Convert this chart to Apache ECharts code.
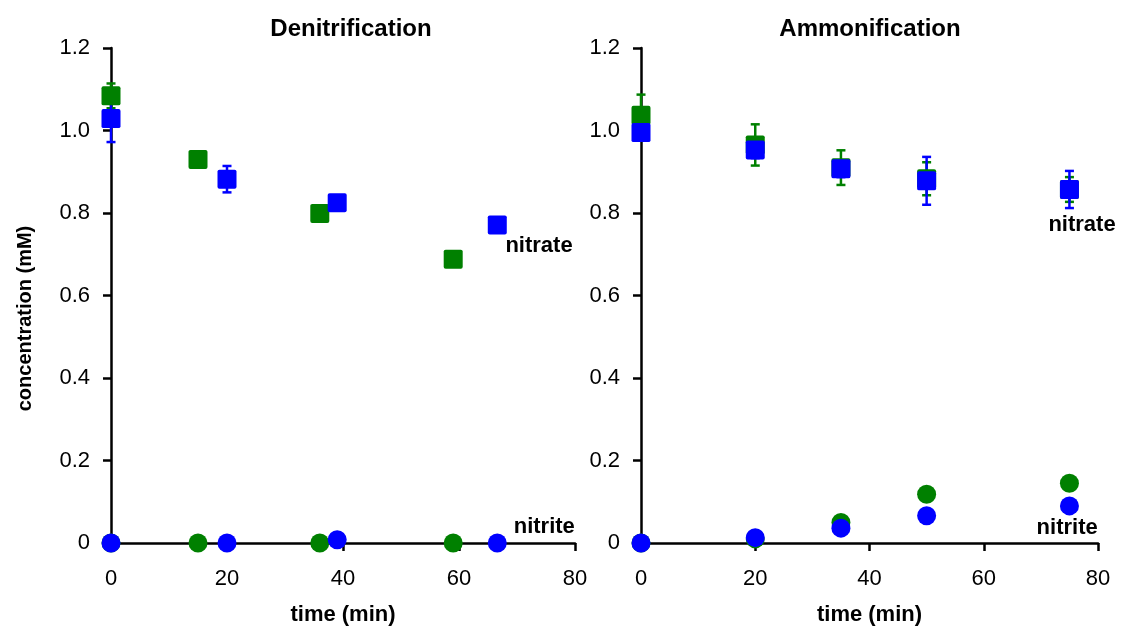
<!DOCTYPE html>
<html>
<head>
<meta charset="utf-8">
<script src="https://cdn.jsdelivr.net/npm/echarts@6/dist/echarts.min.js"></script>
<style>
  html, body { margin: 0; padding: 0; background: #fff; }
  #chart { width: 1129px; height: 626px; }
</style>
</head>
<body>
<div id="chart"></div>
<script>
// Panel titles and axis text
const panelTitles = ['Denitrification', 'Ammonification'];
const xTickValues = [0, 20, 40, 60, 80];
const yTickLabels = ['0', '0.2', '0.4', '0.6', '0.8', '1.0', '1.2'];

// Denitrification: two replicate runs (green, blue), time in min, concentration in mM
const denitTimeA = [0, 15, 36, 59];
const denitNitrateA = [1.084, 0.930, 0.799, 0.688];
const denitNitrateErrA = [0.03, 0.01, 0.01, 0.01];
const denitNitriteA = [0, 0, 0, 0];

const denitTimeB = [0, 20, 39, 66.6];
const denitNitrateB = [1.029, 0.882, 0.825, 0.771];
const denitNitrateErrB = [0.057, 0.032, 0.0, 0.012];
const denitNitriteB = [0, 0, 0.008, 0];

// Ammonification: both runs sampled at the same times
const ammTime = [0, 20, 35, 50, 75];
const ammNitrateA = [1.037, 0.965, 0.910, 0.883, 0.857];
const ammNitrateErrA = [0.05, 0.05, 0.042, 0.04, 0.03];
const ammNitriteA = [0, 0.01, 0.05, 0.118, 0.145];

const ammNitrateB = [0.995, 0.953, 0.907, 0.878, 0.857];
const ammNitrateErrB = [0.01, 0.02, 0.02, 0.058, 0.045];
const ammNitriteB = [0, 0.013, 0.036, 0.066, 0.090];

// In-plot species labels: [time, concentration, text]
const denitNotes = [[73.8, 0.72, 'nitrate'], [74.7, 0.039, 'nitrite']];
const ammNotes = [[77.2, 0.771, 'nitrate'], [74.6, 0.036, 'nitrite']];

const GREEN = '#008000';
const BLUE = '#0000ff';
const FONT = '"Liberation Sans", Arial, Helvetica, sans-serif';
const SQUARE = 'path://M1,0L9,0Q10,0 10,1L10,9Q10,10 9,10L1,10Q0,10 0,9L0,1Q0,0 1,0Z';

const zip = (xs, ys) => xs.map((x, i) => [x, ys[i]]);
const zipErr = (xs, ys, es) => xs.map((x, i) => [x, ys[i] - es[i], ys[i] + es[i]]);

function errorSeries(idx, data, color) {
  return {
    type: 'custom',
    xAxisIndex: idx, yAxisIndex: idx,
    clip: false,
    z: 3,
    data: data,
    renderItem: function (params, api) {
      const lo = api.coord([api.value(0), api.value(1)]);
      const hi = api.coord([api.value(0), api.value(2)]);
      const cap = 4.5;
      const style = { stroke: color, lineWidth: 2.5 };
      return {
        type: 'group',
        children: [
          { type: 'line', shape: { x1: lo[0], y1: lo[1], x2: hi[0], y2: hi[1] }, style: style },
          { type: 'line', shape: { x1: lo[0] - cap, y1: lo[1], x2: lo[0] + cap, y2: lo[1] }, style: style },
          { type: 'line', shape: { x1: hi[0] - cap, y1: hi[1], x2: hi[0] + cap, y2: hi[1] }, style: style }
        ]
      };
    }
  };
}

function pointSeries(idx, data, color, symbol, z) {
  return {
    type: 'scatter',
    xAxisIndex: idx, yAxisIndex: idx,
    clip: false,
    symbol: symbol,
    symbolSize: 19,
    itemStyle: { color: color, opacity: 1 },
    z: z,
    silent: true,
    data: data
  };
}

function noteSeries(idx, data) {
  return {
    type: 'scatter',
    xAxisIndex: idx, yAxisIndex: idx,
    clip: false,
    symbolSize: 0,
    itemStyle: { opacity: 1 },
    z: 6,
    silent: true,
    data: data,
    label: {
      show: true,
      position: 'inside',
      formatter: p => p.data[2],
      color: '#000',
      textBorderWidth: 0,
      fontFamily: FONT,
      fontWeight: 'bold',
      fontSize: 22
    }
  };
}

function xAxis(idx) {
  return {
    type: 'value',
    gridIndex: idx,
    min: 0, max: 80, interval: 20,
    name: 'time (min)',
    nameLocation: 'middle',
    nameGap: 61,
    nameTextStyle: { fontFamily: FONT, fontWeight: 'bold', fontSize: 22, color: '#000' },
    axisLine: { show: true, onZero: false, lineStyle: { color: '#000', width: 2.5 } },
    axisTick: { show: true, inside: false, length: 8, lineStyle: { color: '#000', width: 2.5 } },
    axisLabel: {
      margin: 25, fontFamily: FONT, fontSize: 22, color: '#000',
      formatter: v => (xTickValues.indexOf(v) >= 0 ? String(v) : '')
    },
    splitLine: { show: false }
  };
}

function yAxis(idx, withName) {
  return {
    type: 'value',
    gridIndex: idx,
    min: 0, max: 1.2, interval: 0.2,
    name: withName ? 'concentration (mM)' : '',
    nameLocation: 'middle',
    nameGap: 76,
    nameTextStyle: {
      fontFamily: FONT, fontWeight: 'bold', fontSize: 20, color: '#000',
      padding: [0, 46, 0, 0]
    },
    axisLine: { show: true, onZero: false, lineStyle: { color: '#000', width: 2.5 } },
    axisTick: { show: true, inside: false, length: 8, lineStyle: { color: '#000', width: 2.5 } },
    axisLabel: {
      margin: 21, fontFamily: FONT, fontSize: 22, color: '#000',
      formatter: v => yTickLabels[Math.round(v / 0.2)]
    },
    splitLine: { show: false }
  };
}

const chart = echarts.init(document.getElementById('chart'), null, { renderer: 'canvas' });

chart.setOption({
  backgroundColor: '#ffffff',
  animation: false,
  title: [
    { text: panelTitles[0], left: 346, top: 12, textAlign: 'center',
      textStyle: { fontFamily: FONT, fontWeight: 'bold', fontSize: 24, color: '#000' } },
    { text: panelTitles[1], left: 865, top: 12, textAlign: 'center',
      textStyle: { fontFamily: FONT, fontWeight: 'bold', fontSize: 24, color: '#000' } }
  ],
  grid: [
    { left: 111, top: 48, width: 464, height: 495, containLabel: false, outerBoundsMode: 'none' },
    { left: 641, top: 48, width: 457, height: 495, containLabel: false, outerBoundsMode: 'none' }
  ],
  xAxis: [xAxis(0), xAxis(1)],
  yAxis: [yAxis(0, true), yAxis(1, false)],
  series: [
    // Denitrification
    errorSeries(0, zipErr(denitTimeA, denitNitrateA, denitNitrateErrA), GREEN),
    pointSeries(0, zip(denitTimeA, denitNitrateA), GREEN, SQUARE, 4),
    pointSeries(0, zip(denitTimeA, denitNitriteA), GREEN, 'circle', 4),
    errorSeries(0, zipErr(denitTimeB, denitNitrateB, denitNitrateErrB), BLUE),
    pointSeries(0, zip(denitTimeB, denitNitrateB), BLUE, SQUARE, 5),
    pointSeries(0, zip(denitTimeB, denitNitriteB), BLUE, 'circle', 5),
    noteSeries(0, denitNotes),
    // Ammonification
    errorSeries(1, zipErr(ammTime, ammNitrateA, ammNitrateErrA), GREEN),
    pointSeries(1, zip(ammTime, ammNitrateA), GREEN, SQUARE, 4),
    pointSeries(1, zip(ammTime, ammNitriteA), GREEN, 'circle', 4),
    errorSeries(1, zipErr(ammTime, ammNitrateB, ammNitrateErrB), BLUE),
    pointSeries(1, zip(ammTime, ammNitrateB), BLUE, SQUARE, 5),
    pointSeries(1, zip(ammTime, ammNitriteB), BLUE, 'circle', 5),
    noteSeries(1, ammNotes)
  ]
});
</script>
</body>
</html>
